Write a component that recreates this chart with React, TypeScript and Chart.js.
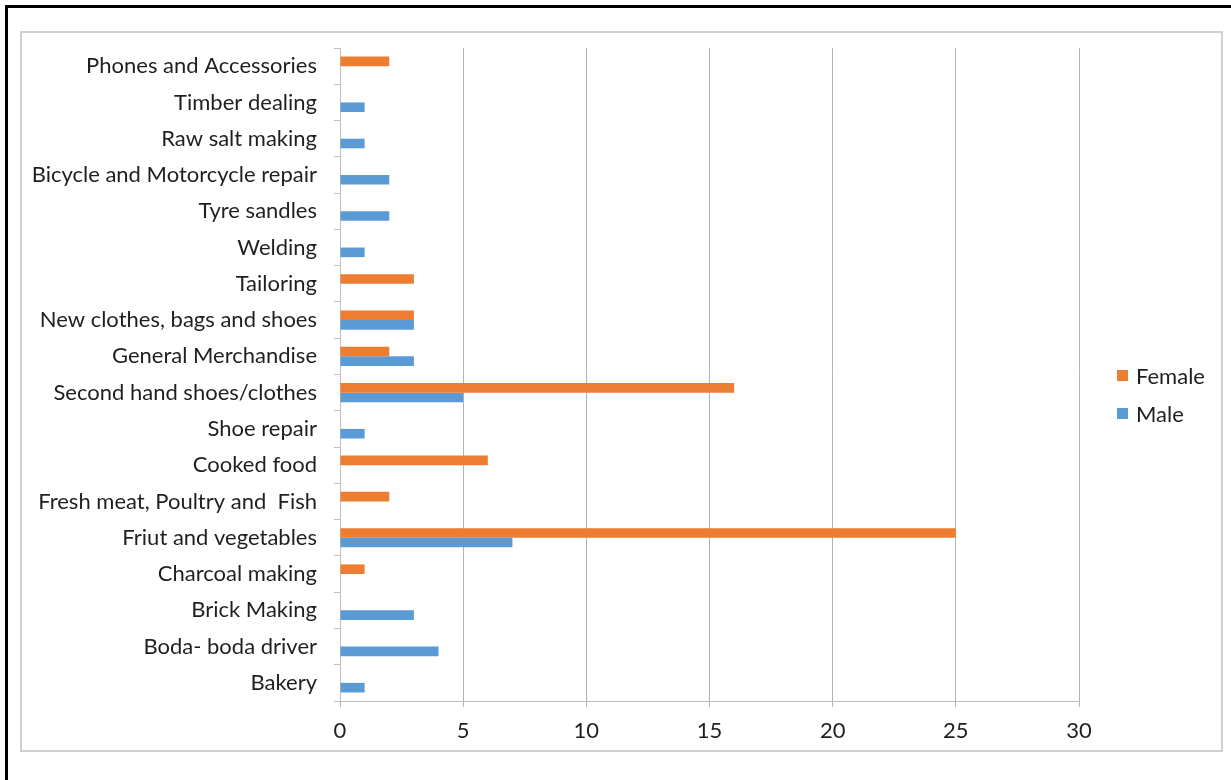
import React, { useEffect, useRef } from "react";
import { Chart, registerables } from "chart.js";

Chart.register(...registerables);

const categories = [
  "Phones and Accessories",
  "Timber dealing",
  "Raw salt making",
  "Bicycle and Motorcycle repair",
  "Tyre sandles",
  "Welding",
  "Tailoring",
  "New clothes, bags and shoes",
  "General Merchandise",
  "Second hand shoes/clothes",
  "Shoe repair",
  "Cooked food",
  "Fresh meat, Poultry and  Fish",
  "Friut and vegetables",
  "Charcoal making",
  "Brick Making",
  "Boda- boda driver",
  "Bakery",
];

const femaleValues = [2, 0, 0, 0, 0, 0, 3, 3, 2, 16, 0, 6, 2, 25, 1, 0, 0, 0];
const maleValues = [0, 1, 1, 2, 2, 1, 0, 3, 3, 5, 1, 0, 0, 7, 0, 3, 4, 1];

const xTickValues = [0, 5, 10, 15, 20, 25, 30];

const FONT_FAMILY = "Lato, 'Open Sans', sans-serif";
const FONT_SIZE = 22;
const TEXT_COLOR = "#1f1f1f";

export default function App() {
  const canvasRef = useRef<HTMLCanvasElement | null>(null);

  useEffect(() => {
    if (!canvasRef.current) return;
    const sideLegend = {
      id: "sideLegend",
      afterDraw(chart: any) {
        const { ctx, chartArea } = chart;
        const cy = (chartArea.top + chartArea.bottom) / 2 + 1;
        chart.data.datasets.forEach((ds: any, i: number) => {
          const y = cy + i * 38;
          ctx.save();
          ctx.fillStyle = ds.backgroundColor;
          ctx.fillRect(chartArea.right + 38, y - 5.5, 11, 11);
          ctx.fillStyle = TEXT_COLOR;
          ctx.font = `${FONT_SIZE}px ${FONT_FAMILY}`;
          ctx.textBaseline = "middle";
          ctx.textAlign = "left";
          ctx.fillText(ds.label, chartArea.right + 57, y + 1);
          ctx.restore();
        });
      },
    };

    const chart = new Chart(canvasRef.current, {
      type: "bar",
      data: {
        labels: categories,
        datasets: [
          { label: "Female", data: femaleValues, backgroundColor: "#ED7D31", borderWidth: 0 },
          { label: "Male", data: maleValues, backgroundColor: "#5B9BD5", borderWidth: 0 },
        ],
      },
      options: {
        indexAxis: "y",
        animation: false,
        responsive: false,
        maintainAspectRatio: false,
        layout: { padding: { top: 15, right: 142, left: 0, bottom: 0 } },
        plugins: { legend: { display: false }, tooltip: { enabled: false } },
        datasets: { bar: { categoryPercentage: 0.53, barPercentage: 1 } },
        scales: {
          x: {
            min: 0,
            max: 30,
            afterBuildTicks: (scale: any) => {
              scale.ticks = xTickValues.map((v) => ({ value: v }));
            },
            ticks: {
              font: { family: FONT_FAMILY, size: FONT_SIZE },
              color: TEXT_COLOR,
              padding: 11,
            },
            grid: { color: "#b3b3b3", tickLength: 6 },
            border: { color: "#bfbfbf" },
            afterFit: (scale: any) => {
              scale.height = 49;
            },
          },
          y: {
            grid: { drawOnChartArea: false, tickLength: 6, color: "#bfbfbf", offset: true },
            border: { color: "#bfbfbf" },
            ticks: {
              font: { family: FONT_FAMILY, size: FONT_SIZE },
              color: TEXT_COLOR,
              padding: 17,
              autoSkip: false,
            },
            afterFit: (scale: any) => {
              scale.width = 318;
              scale.paddingTop = 0;
              scale.paddingBottom = 0;
            },
          },
        },
      },
      plugins: [sideLegend],
    } as any);
    return () => chart.destroy();
  }, []);

  return (
    <div
      style={{
        position: "absolute",
        left: 0,
        top: 0,
        width: 1231,
        height: 780,
        background: "#fff",
        overflow: "hidden",
      }}
    >
      <div
        style={{
          position: "absolute",
          left: 5,
          top: 5,
          width: 1240,
          height: 790,
          borderTop: "3px solid #000",
          borderLeft: "3px solid #000",
        }}
      />
      <div
        style={{
          position: "absolute",
          left: 20,
          top: 31,
          width: 1199,
          height: 717,
          border: "2px solid #d0d0d0",
          background: "#fff",
        }}
      >
        <canvas ref={canvasRef} width={1199} height={717} style={{ display: "block" }} />
      </div>
    </div>
  );
}
